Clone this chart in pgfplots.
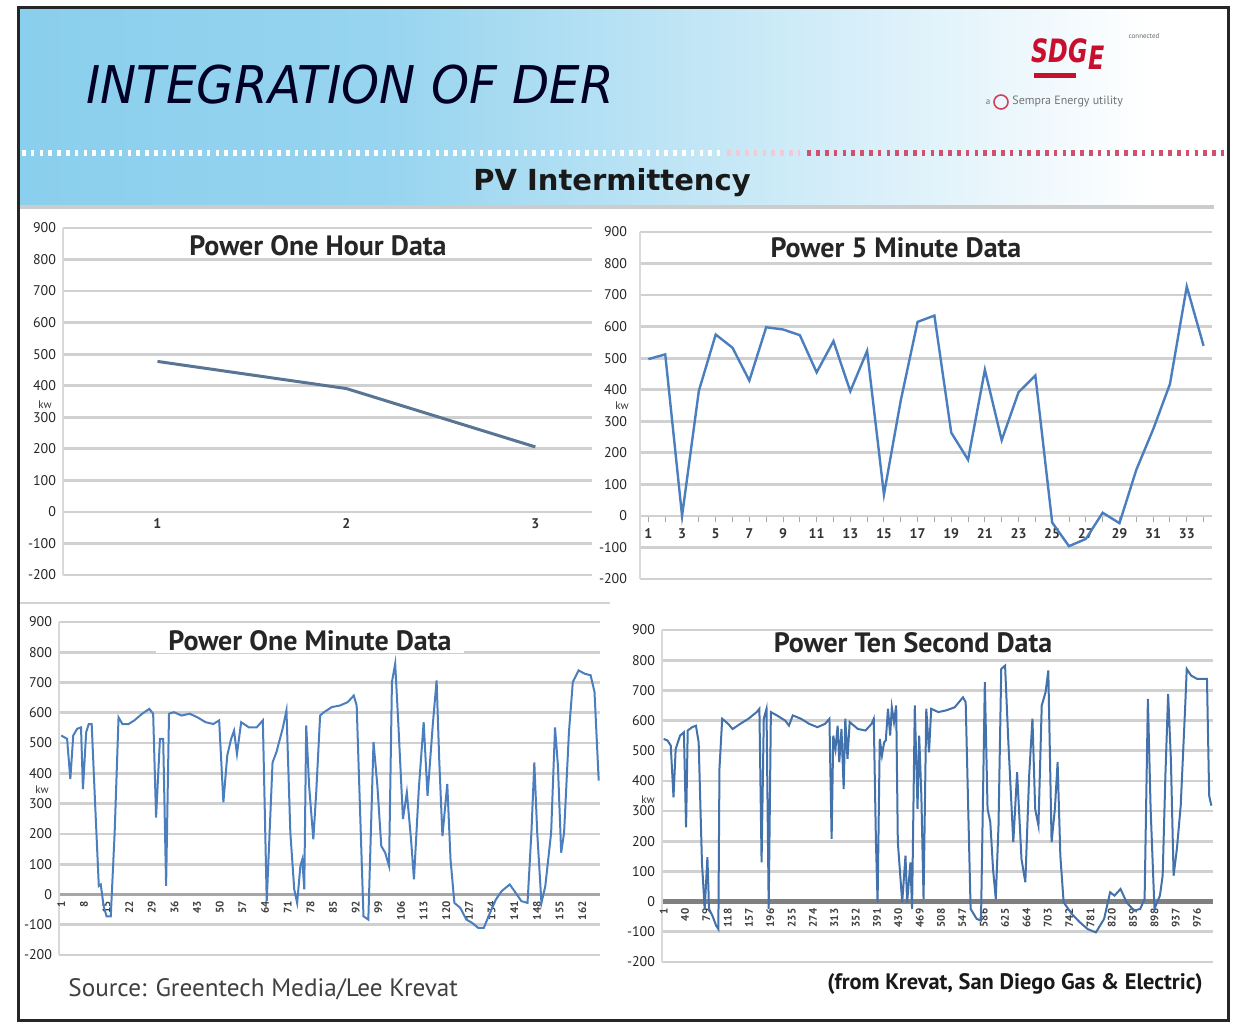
\documentclass[border=0pt]{standalone}
\usepackage{fontspec}
\setmainfont{PT Sans}
\newfontfamily\dejavu{DejaVu Sans}[ItalicFont={DejaVu Sans Oblique},BoldFont={DejaVu Sans Bold}]
\usepackage{graphicx}
\usepackage{pgfplots}
\pgfplotsset{compat=1.18}
\definecolor{hdrblue}{HTML}{74C6EA}
\definecolor{linebl}{HTML}{4A7EBE}
\definecolor{hourln}{HTML}{5A7494}
\definecolor{gridgr}{HTML}{D0D0D0}
\definecolor{sdgered}{HTML}{C8102E}
\definecolor{dotpink}{HTML}{D0506E}
\pgfdeclarehorizontalshading{hdr}{100bp}{color(0bp)=(hdrblue); color(40bp)=(hdrblue!75!white); color(72bp)=(white); color(100bp)=(white)}
\pgfplotsset{panel/.style={
  scale only axis, anchor=south west,
  ymin=-200, ymax=900, ytick={-200,-100,...,900},
  axis x line*=middle, axis y line*=left,
  hide obscured x ticks=false, hide obscured y ticks=false,
  ymajorgrids, grid style={gridgr, line width=1.4pt},
  y axis line style={draw=gridgr!80, line width=0.6pt},
  x axis line style={gridgr, line width=1.4pt},
  ytick style={draw=none},
  yticklabel style={font=\fontsize{7}{7}\selectfont, text=black!85},
  /pgf/number format/assume math mode=true,
  /pgf/number format/1000 sep={},
}}
\begin{document}
\begin{tikzpicture}
\useasboundingbox (0pt,0pt) rectangle (619pt,512pt);
\fill[white] (0pt,0pt) rectangle (619pt,512pt);
% header
\shade[shading=hdr] (10pt,408pt) rectangle (612.5pt,507pt);
\draw[white, line width=2.6pt, dash pattern=on 1.8pt off 2.6pt] (11pt,435.5pt) -- (360pt,435.5pt);
\draw[dotpink!30, line width=2.6pt, dash pattern=on 1.8pt off 2.6pt] (363.7pt,435.5pt) -- (400pt,435.5pt);
\draw[dotpink, line width=2.6pt, dash pattern=on 1.8pt off 2.6pt] (403.7pt,435.5pt) -- (612pt,435.5pt);
\draw[gray!40, line width=2pt] (10pt,408.5pt) -- (607pt,408.5pt);
\node[anchor=west, text=black!85!blue, inner sep=0pt] at (43pt,469.5pt)
  {\scalebox{0.93}[1]{\dejavu\itshape\fontsize{26}{26}\selectfont INTEGRATION OF DER}};
\node[text=black!90, inner sep=0pt] at (306pt,420.5pt)
  {\dejavu\bfseries\fontsize{14.5}{14.5}\selectfont PV Intermittency};
% logo
\node[text=sdgered, inner sep=0pt] at (534pt,485pt)
  {\scalebox{0.85}[1.15]{\dejavu\bfseries\itshape\fontsize{14}{14}\selectfont SDG\raisebox{-3pt}{E}}};
\fill[sdgered] (517pt,473pt) rectangle (538pt,475.5pt);
\node[text=black!60, inner sep=0pt] at (572pt,494pt) {\fontsize{3.5}{3.5}\selectfont connected};
\node[text=black!55, inner sep=0pt] at (494pt,461pt) {\fontsize{4.5}{4.5}\selectfont a};
\draw[sdgered!80, line width=0.8pt] (500.5pt,461pt) circle (3.5pt);
\node[text=black!55, inner sep=0pt, anchor=west] at (506pt,461pt) {\fontsize{6}{6}\selectfont Sempra Energy utility};
% separators
\draw[gray!35, line width=0.8pt] (10pt,210.5pt) -- (305pt,210.5pt);

% ---------- Power One Hour Data ----------
\begin{axis}[panel, at={(31.5pt,224.5pt)}, width=264.5pt, height=173.5pt,
  xmin=0.5, xmax=3.3, xtick={1,2,3}, major x tick style={draw=none},
  xticklabel style={font=\fontsize{7}{7}\selectfont\bfseries, text=black!80}]
\addplot[hourln, line width=1.5pt] coordinates {(1,477) (2,391) (3,206)};
\end{axis}

% ---------- Power 5 Minute Data ----------
\begin{axis}[panel, at={(320pt,222.5pt)}, width=286pt, height=173.5pt,
  xmin=0.5, xmax=34.5, xtick={1,3,...,33}, minor xtick={2,4,...,34},
  tick align=outside, major tick length=3pt, minor tick length=3pt,
  xtick style={draw=gray!70, line width=0.5pt},
  xticklabel style={font=\fontsize{7}{7}\selectfont\bfseries, text=black!80}]
\addplot[linebl, line width=1.2pt] table {
x y
1 497
2 512
3 0
4 397
5 575
6 533
7 429
8 598
9 591
10 573
11 455
12 554
13 395
14 523
15 68
16 366
17 615
18 635
19 264
20 178
21 463
22 240
23 392
24 445
25 -21
26 -96
27 -73
28 10
29 -23
30 146
31 274
32 418
33 727
34 539
};
\end{axis}

% ---------- Power One Minute Data ----------
\begin{axis}[panel, at={(29.5pt,34.5pt)}, width=270.5pt, height=166.5pt,
  xmin=0.3, xmax=167.5, xtick={1,8,...,162}, major x tick style={draw=none},
  x axis line style={gridgr!80!black, line width=1.4pt},
  xticklabel style={rotate=90, anchor=east, font=\fontsize{5.5}{5.5}\selectfont\bfseries, text=black!75}]
\addplot[linebl, line width=1pt] coordinates {
(1,525)(2.8,514)(3.8,381)(4.7,525)(5.9,547)(7.1,552)(7.7,348)(8.7,536)(9.5,563)(10.4,563)
(11.4,315)(12.6,28)(13.2,33)(14.1,-39)(15.0,-72)(16.3,-72)(17.5,204)(18.7,585)(19.9,563)(21.8,563)
(23.6,575)(26.0,597)(28.2,613)(29.4,597)(30.3,254)(31.5,514)(32.5,514)(33.4,28)(34.3,597)(35.8,602)
(38.2,591)(40.7,597)(43.1,585)(45.6,569)(48.0,563)(49.8,575)(51.1,304)(52.3,459)(53.5,514)(54.4,541)
(55.3,464)(56.6,569)(59.0,552)(61.4,552)(63.3,575)(64.5,-22)(66.3,436)(67.5,470)(69.4,547)(70.6,608)
(71.8,204)(73.0,17)(73.9,-28)(74.9,94)(75.5,116)(76.1,17)(76.7,558)(77.6,359)(78.9,182)(79.8,337)
(81.0,591)(82.2,602)(84.6,619)(87.1,624)(89.5,635)(91.4,657)(92.3,624)(94.4,-72)(95.9,-83)(97.5,503)
(98.7,359)(99.9,160)(101.1,138)(102.3,94)(103.2,702)(104.2,762)(105.2,558)(106.6,249)(107.8,337)(109.1,182)
(110.0,50)(111.5,348)(113.0,569)(114.2,326)(115.8,558)(117.0,707)(117.8,448)(118.8,193)(120.3,365)(121.3,116)
(122.5,-28)(124.3,-44)(126.2,-83)(128.0,-94)(129.8,-110)(131.6,-110)(133.5,-61)(135.3,-17)(137.1,11)(139.6,33)
(141.4,6)(143.2,-22)(145.1,-28)(146.3,204)(147.2,436)(148.1,204)(149.4,-28)(150.6,28)(152.4,204)(153.6,552)
(154.5,425)(155.5,138)(156.4,204)(157.9,536)(159.1,702)(160.9,740)(162.8,729)(164.6,724)(165.8,669)(167.1,376)
};
\end{axis}

% ---------- Power Ten Second Data ----------
\begin{axis}[panel, at={(331pt,31pt)}, width=275.5pt, height=166pt,
  xmin=-2, xmax=1005, xtick={1,40,...,976}, major x tick style={draw=none},
  x axis line style={draw=black!50, line width=2.2pt},
  xticklabel style={rotate=90, anchor=east, font=\fontsize{5.5}{5.5}\selectfont\bfseries, text=black!75}]
\addplot[linebl!90!black, line width=1pt] coordinates {
(1,539)(8,534)(14,517)(19,346)(23,506)(31,550)(38,561)(42,246)(45,567)(53,578)
(60,583)(65,528)(71,130)(76,-24)(81,147)(84,-24)(90,-46)(97,-80)(101,-91)(103,440)
(108,606)(119,589)(127,572)(141,589)(156,606)(171,628)(176,639)(180,130)(184,606)(189,639)
(193,-24)(197,628)(208,617)(223,600)(230,583)(237,617)(252,606)(267,589)(282,578)(296,589)
(304,606)(308,208)(311,550)(315,506)(319,583)(322,462)(326,572)(330,373)(333,606)(337,473)
(341,595)(356,572)(370,567)(381,589)(385,606)(389,197)(392,-2)(396,539)(400,484)(404,528)
(407,534)(411,639)(415,550)(418,644)(422,595)(426,650)(429,197)(437,-2)(443,152)(446,-2)
(452,130)(455,-24)(460,650)(465,307)(468,550)(472,351)(476,9)(481,639)(486,495)(490,639)
(503,628)(518,634)(533,644)(548,677)(553,661)(562,-24)(573,-57)(581,-63)(588,727)(593,307)
(598,263)(603,108)(608,9)(613,252)(618,771)(625,782)(631,528)(640,197)(647,429)(655,141)
(662,64)(669,418)(675,606)(680,307)(686,252)(692,650)(699,694)(704,766)(710,197)(716,307)
(721,462)(726,152)(732,-2)(747,-41)(762,-69)(776,-91)(791,-102)(806,-57)(817,31)(825,20)
(836,42)(847,-2)(861,-30)(872,-24)(880,9)(886,672)(891,307)(898,-24)(908,20)(913,86)
(918,418)(923,688)(928,473)(933,86)(939,175)(946,318)(954,639)(957,771)(965,749)(976,738)
(983,738)(994,738)(998,351)(1002,318)
};
\end{axis}

% panel titles
\node[fill=white, inner xsep=6pt, inner ysep=1pt, text=black!85] at (159pt,389pt) {\bfseries\fontsize{14}{14}\selectfont Power One Hour Data};
\node[fill=white, inner xsep=6pt, inner ysep=1pt, text=black!85] at (448pt,388pt) {\bfseries\fontsize{14}{14}\selectfont Power 5 Minute Data};
\node[fill=white, inner xsep=6pt, inner ysep=1pt, text=black!85] at (155pt,191.5pt) {\bfseries\fontsize{14}{14}\selectfont Power One Minute Data};
\node[fill=white, inner xsep=6pt, inner ysep=1pt, text=black!85] at (456.5pt,190.5pt) {\bfseries\fontsize{14}{14}\selectfont Power Ten Second Data};
% kw labels
\node[fill=white, inner sep=0.3pt, text=black!80] at (22.5pt,309.5pt) {\fontsize{5.5}{5.5}\selectfont kw};
\node[fill=white, inner sep=0.3pt, text=black!80] at (311pt,309pt) {\fontsize{5.5}{5.5}\selectfont kw};
\node[fill=white, inner sep=0.3pt, text=black!80] at (21pt,117pt) {\fontsize{5.5}{5.5}\selectfont kw};
\node[fill=white, inner sep=0.3pt, text=black!80] at (324pt,112pt) {\fontsize{5.5}{5.5}\selectfont kw};
% sources
\node[anchor=west, text=black!75, inner sep=0pt] at (34pt,17.5pt) {\fontsize{12.6}{12.6}\selectfont Source: Greentech Media/Lee Krevat};
\node[anchor=east, text=black!90, inner sep=0pt] at (601.5pt,20pt) {\bfseries\fontsize{11.2}{11.2}\selectfont (from Krevat, San Diego Gas \& Electric)};
% slide border
\draw[black!85, line width=1.5pt] (9pt,2pt) rectangle (614pt,508pt);
\end{tikzpicture}
\end{document}
